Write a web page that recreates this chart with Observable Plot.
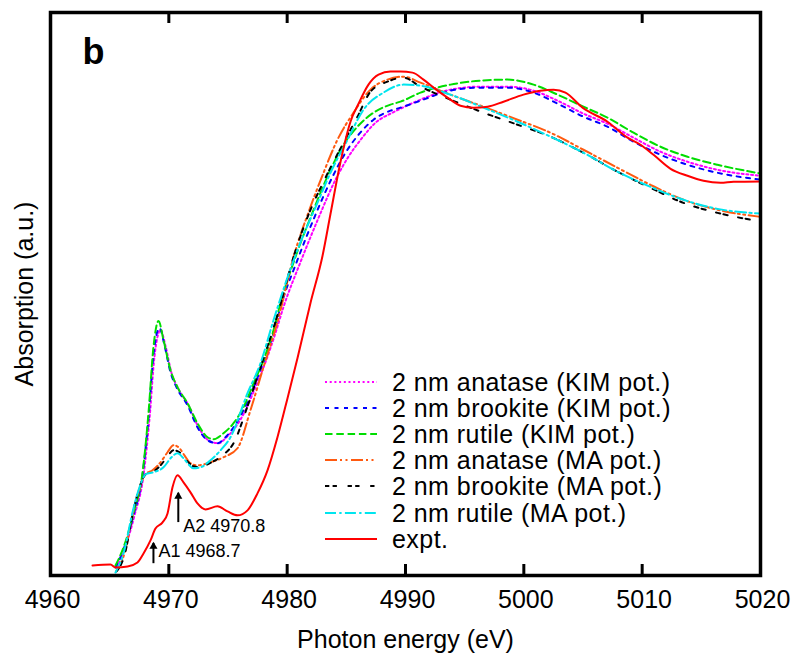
<!DOCTYPE html>
<html><head><meta charset="utf-8">
<script src="https://cdn.jsdelivr.net/npm/d3@7"></script>
<script src="https://cdn.jsdelivr.net/npm/@observablehq/plot@0.6"></script>
<style>
body{margin:0;background:#fff;}
#wrap{position:relative;width:795px;height:653px;font-family:"Liberation Sans",Arial,Helvetica,sans-serif;}
#legend{position:absolute;left:324px;top:369px;}
.row{display:flex;align-items:center;height:26.1px;}
.row svg{display:block;}
.row span{font-size:25px;letter-spacing:0.45px;margin-left:14px;white-space:nowrap;color:#000;line-height:26px;}
</style></head>
<body><div id="wrap"><div id="chart"></div><div id="legend"></div></div>
<script>
// ---------- data ----------
const xTicks = [4960, 4970, 4980, 4990, 5000, 5010, 5020];

const seriesNames = [
  "2 nm anatase (KIM pot.)",
  "2 nm brookite (KIM pot.)",
  "2 nm rutile (KIM pot.)",
  "2 nm anatase (MA pot.)",
  "2 nm brookite (MA pot.)",
  "2 nm rutile (MA pot.)",
  "expt."
];

const anataseKIM_E = [4965.58, 4966.25, 4967.10, 4967.86, 4968.37, 4968.79, 4969.30, 4969.72, 4970.23, 4970.82, 4971.66, 4972.51, 4973.35, 4974.20, 4974.87, 4975.63, 4976.48, 4977.32, 4978.17, 4979.01, 4979.69, 4981.13, 4982.65, 4984.08, 4985.18, 4986.28, 4987.47, 4988.90, 4989.58, 4991.27, 4993.80, 4996.34, 4998.62, 5000.82, 5002.85, 5005.04, 5007.07, 5009.27, 5011.55, 5013.83, 5016.37, 5020.00];
const anataseKIM_A = [1.42, 4.63, 10.68, 17.79, 27.94, 38.97, 43.59, 40.75, 35.94, 33.10, 30.25, 26.33, 24.02, 23.49, 24.56, 26.33, 29.36, 33.45, 37.90, 43.06, 47.69, 55.69, 63.52, 70.28, 74.38, 77.58, 80.43, 82.21, 82.92, 84.52, 86.30, 86.83, 86.83, 86.12, 84.34, 82.03, 80.25, 77.76, 75.27, 73.49, 72.06, 71.0];

const brookiteKIM_E = [4965.49, 4966.17, 4967.01, 4967.77, 4968.28, 4968.70, 4969.21, 4969.63, 4970.14, 4970.73, 4971.58, 4972.42, 4973.27, 4974.11, 4974.79, 4975.47, 4976.31, 4977.16, 4978.00, 4978.85, 4979.44, 4980.87, 4982.39, 4983.83, 4984.93, 4986.03, 4987.30, 4988.73, 4989.58, 4991.27, 4993.80, 4996.34, 4998.62, 5000.82, 5002.85, 5005.04, 5007.07, 5009.27, 5011.55, 5013.83, 5016.37, 5020.00];
const brookiteKIM_A = [1.42, 4.63, 10.68, 17.79, 27.94, 39.15, 43.95, 40.93, 36.12, 33.10, 30.25, 26.33, 24.02, 23.49, 24.56, 26.33, 29.36, 33.45, 37.90, 43.06, 47.69, 56.05, 64.06, 70.82, 75.09, 78.29, 80.96, 82.56, 83.10, 84.34, 86.12, 86.65, 86.65, 85.77, 83.81, 81.49, 79.72, 77.05, 74.73, 72.95, 71.53, 70.3];

const rutileKIM_E = [4965.49, 4966.17, 4967.01, 4967.77, 4968.28, 4968.70, 4969.13, 4969.55, 4970.14, 4970.73, 4971.58, 4972.42, 4973.27, 4973.77, 4974.62, 4975.47, 4976.31, 4977.16, 4978.00, 4978.85, 4979.44, 4980.70, 4982.23, 4983.66, 4984.76, 4985.94, 4987.30, 4988.73, 4989.58, 4991.27, 4993.80, 4996.34, 4998.62, 5000.82, 5002.85, 5005.04, 5007.07, 5009.27, 5011.55, 5013.83, 5016.37, 5020.00];
const rutileKIM_A = [1.78, 4.98, 11.03, 18.15, 28.83, 40.57, 45.20, 41.81, 36.48, 33.45, 30.60, 27.05, 24.56, 24.20, 25.27, 27.05, 29.89, 34.16, 38.26, 43.59, 48.40, 56.58, 64.95, 72.06, 76.51, 79.72, 82.21, 83.63, 84.16, 85.77, 87.19, 87.90, 88.08, 87.19, 85.41, 83.27, 81.32, 78.65, 76.16, 74.38, 72.95, 71.4];

const anataseMA_E = [4965.58, 4966.25, 4967.01, 4967.61, 4968.03, 4968.62, 4969.30, 4969.89, 4970.39, 4970.82, 4971.32, 4971.83, 4972.42, 4973.52, 4974.62, 4975.80, 4976.90, 4978.00, 4979.18, 4980.54, 4981.97, 4983.07, 4984.25, 4985.61, 4987.04, 4988.48, 4989.83, 4991.27, 4993.80, 4996.59, 4999.47, 5002.25, 5005.04, 5007.92, 5010.70, 5013.49, 5016.37, 5020.00];
const anataseMA_A = [0.89, 3.91, 11.57, 16.01, 17.97, 18.68, 20.11, 21.89, 23.13, 22.78, 21.35, 19.93, 19.57, 20.11, 21.00, 22.60, 29.36, 37.01, 45.02, 56.58, 65.48, 71.53, 77.40, 82.21, 86.30, 88.08, 88.61, 87.54, 85.41, 83.27, 80.96, 78.65, 75.62, 72.42, 69.40, 66.73, 64.95, 63.7];

const brookiteMA_E = [4965.58, 4966.25, 4967.01, 4967.61, 4968.03, 4968.62, 4969.30, 4969.89, 4970.39, 4970.90, 4971.49, 4972.08, 4972.68, 4973.27, 4974.54, 4975.47, 4976.65, 4977.75, 4979.18, 4980.54, 4981.97, 4983.07, 4984.76, 4985.94, 4987.04, 4988.48, 4989.83, 4991.27, 4993.80, 4996.59, 4999.47, 5002.25, 5005.04, 5007.92, 5010.70, 5013.49, 5016.37, 5020.00];
const brookiteMA_A = [0.71, 3.56, 11.57, 16.19, 17.97, 18.33, 19.57, 21.17, 22.24, 21.89, 20.46, 19.40, 19.22, 19.75, 21.35, 23.49, 30.07, 37.01, 46.26, 56.58, 64.95, 69.93, 76.87, 81.49, 85.94, 87.72, 88.43, 86.83, 84.52, 82.21, 80.07, 77.94, 75.09, 71.71, 68.86, 66.19, 64.41, 62.9];

const rutileMA_E = [4965.49, 4966.17, 4967.01, 4967.61, 4968.03, 4968.70, 4969.55, 4970.23, 4970.73, 4971.24, 4971.66, 4972.08, 4972.68, 4973.52, 4974.37, 4975.21, 4976.65, 4977.75, 4978.85, 4980.87, 4982.56, 4983.66, 4985.10, 4986.45, 4988.14, 4989.83, 4991.27, 4993.80, 4996.59, 4999.47, 5002.25, 5005.04, 5007.92, 5010.70, 5013.49, 5016.37, 5020.00];
const rutileMA_A = [0.53, 3.91, 11.92, 16.19, 17.97, 18.33, 19.22, 21.00, 21.71, 20.82, 19.75, 19.04, 19.22, 20.46, 22.24, 24.56, 32.38, 37.72, 45.37, 57.83, 66.19, 71.53, 77.40, 82.74, 85.77, 87.19, 87.01, 85.41, 83.10, 80.60, 77.94, 75.09, 71.71, 69.04, 66.73, 65.12, 64.3];

const expt_E = [4963.55, 4965.07, 4965.49, 4966.51, 4967.35, 4967.86, 4968.45, 4968.87, 4969.47, 4969.89, 4970.31, 4970.73, 4971.24, 4971.83, 4972.42, 4973.10, 4974.11, 4974.96, 4975.80, 4976.65, 4977.49, 4978.34, 4979.18, 4980.03, 4980.87, 4981.97, 4982.99, 4983.66, 4984.51, 4985.35, 4986.03, 4986.87, 4987.72, 4988.73, 4989.58, 4990.59, 4991.52, 4992.37, 4993.55, 4994.65, 4995.75, 4996.93, 4998.28, 4999.97, 5001.41, 5002.51, 5003.52, 5004.96, 5007.07, 5008.76, 5009.86, 5010.96, 5012.40, 5013.83, 5015.18, 5016.62, 5017.72, 5020.00];
const expt_A = [1.78, 1.96, 1.42, 1.60, 2.31, 3.91, 6.23, 8.36, 9.43, 11.03, 15.66, 17.79, 16.55, 14.77, 12.81, 11.74, 12.28, 11.39, 10.68, 11.57, 14.59, 18.68, 24.56, 31.5, 38.6, 48.4, 56.8, 64.2, 73.5, 80.6, 83.8, 87.19, 88.97, 89.50, 89.50, 89.32, 88.08, 86.65, 84.88, 83.45, 83.10, 83.27, 84.16, 85.41, 86.12, 86.30, 85.77, 83.10, 80.60, 77.76, 76.51, 74.73, 72.24, 71.00, 70.11, 69.75, 69.93, 70.0];

// annotations (edge features of the experiment)
const annLabel = ["A1 4968.7", "A2 4970.8"];
const annE = [4968.7, 4970.8];
const annTail = [2.1, 9.4];
const annHead = [5.7, 14.6];
const annTextA = [4.3, 8.7];

// ---------- styles ----------
const seriesColors = ["#ff00ff", "#0000ff", "#00dd00", "#ff5a10", "#000000", "#00e5ee", "#ff0000"];
const seriesDash = ["2,2.7", "4,5.5", "7.5,3.8", "12,3,2,3.5,2,3.5", "4.3,3.3,4.3,10.7", "11,3.3,2.3,3.3", null];

const seriesE = [anataseKIM_E, brookiteKIM_E, rutileKIM_E, anataseMA_E, brookiteMA_E, rutileMA_E, expt_E];
const seriesA = [anataseKIM_A, brookiteKIM_A, rutileKIM_A, anataseMA_A, brookiteMA_A, rutileMA_A, expt_A];

const W = 795, H = 653, mL = 50, mR = 35, mT = 12, mB = 78;
const plotH = H - mT - mB;
const FONT = "Liberation Sans, Arial, Helvetica, sans-serif";

const toRows = (E, A) => E.slice(0, Math.min(E.length, A.length)).map((e, i) => ({E: e, A: A[i]}));

const marks = [];
seriesNames.forEach((name, i) => {
  marks.push(Plot.line(toRows(seriesE[i], seriesA[i]), {
    x: "E", y: "A", stroke: seriesColors[i], strokeWidth: 2,
    strokeDasharray: seriesDash[i] || undefined, curve: "monotone-x"
  }));
});

const ann = annLabel.map((l, i) => ({label: l, E: annE[i], tail: annTail[i], head: annHead[i], ty: annTextA[i]}));
marks.push(Plot.ruleX(ann, {x: "E", y1: "tail", y2: "head", stroke: "black", strokeWidth: 2}));
marks.push(Plot.dot(ann, {x: "E", y: "head", symbol: "triangle", r: 3, fill: "black", stroke: "none", dy: 3}));
marks.push(Plot.text(ann, {x: "E", y: "ty", text: "label", textAnchor: "start", lineAnchor: "middle", dx: 5, fontSize: 18, fill: "black"}));

const innerTicks = xTicks.slice(1, -1);
marks.push(Plot.tickX(innerTicks, {x: d => d, insetTop: plotH - 11, strokeWidth: 3, stroke: "black"}));
marks.push(Plot.tickX(innerTicks, {x: d => d, insetBottom: plotH - 11, strokeWidth: 3, stroke: "black"}));
marks.push(Plot.frame({stroke: "black", strokeWidth: 3.5}));
marks.push(Plot.axisX({ticks: xTicks, tickSize: 0, tickPadding: 15, fontSize: 25, label: null, tickFormat: d => String(d), dx: 2}));
marks.push(Plot.text(["Photon energy (eV)"], {text: d => d, frameAnchor: "bottom", dy: 72, lineAnchor: "bottom", textAnchor: "middle", fontSize: 25}));
marks.push(Plot.text(["Absorption (a.u.)"], {text: d => d, frameAnchor: "left", rotate: -90, dx: -26, textAnchor: "middle", lineAnchor: "middle", fontSize: 25}));
marks.push(Plot.text(["b"], {text: d => d, frameAnchor: "top-left", dx: 32, dy: 26, textAnchor: "start", lineAnchor: "top", fontSize: 36, fontWeight: "bold"}));

const chart = Plot.plot({
  width: W, height: H,
  marginLeft: mL, marginRight: mR, marginTop: mT, marginBottom: mB,
  x: {domain: [4960, 5020]},
  y: {domain: [0, 100], axis: null},
  style: {fontFamily: FONT, fontSize: "25px", background: "white", color: "black"},
  marks
});
document.getElementById("chart").appendChild(chart);

// ---------- legend ----------
const legend = document.getElementById("legend");
seriesNames.forEach((name, i) => {
  const row = document.createElement("div");
  row.className = "row";
  const ns = "http://www.w3.org/2000/svg";
  const svg = document.createElementNS(ns, "svg");
  svg.setAttribute("width", 54); svg.setAttribute("height", 26);
  const ln = document.createElementNS(ns, "line");
  ln.setAttribute("x1", 1); ln.setAttribute("x2", 53);
  ln.setAttribute("y1", 13); ln.setAttribute("y2", 13);
  ln.setAttribute("stroke", seriesColors[i]); ln.setAttribute("stroke-width", 2);
  if (seriesDash[i]) ln.setAttribute("stroke-dasharray", seriesDash[i]);
  svg.appendChild(ln);
  const t = document.createElement("span");
  t.textContent = name;
  row.appendChild(svg); row.appendChild(t);
  legend.appendChild(row);
});
</script></body></html>
